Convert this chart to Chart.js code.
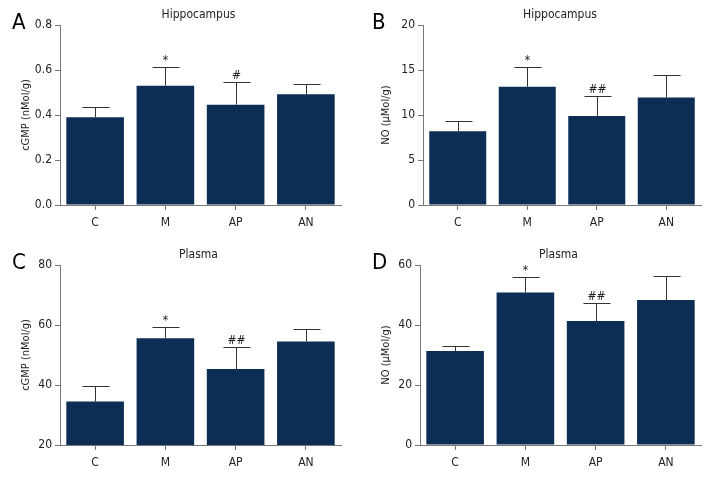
<!DOCTYPE html>
<html>
<head>
<meta charset="utf-8">
<script src="https://cdn.jsdelivr.net/npm/chart.js@4/dist/chart.umd.min.js"></script>
<style>
    html, body { margin: 0; padding: 0; background: #fff; }
    #pagina { position: relative; width: 720px; height: 480px; }
    .painel { position: absolute; width: 360px; height: 240px; }
</style>
</head>
<body>
<div id="pagina">
    <div class="painel" style="left:0;top:0"><canvas id="graficoA" width="360" height="240"></canvas></div>
    <div class="painel" style="left:360px;top:0"><canvas id="graficoB" width="360" height="240"></canvas></div>
    <div class="painel" style="left:0;top:240px"><canvas id="graficoC" width="360" height="240"></canvas></div>
    <div class="painel" style="left:360px;top:240px"><canvas id="graficoD" width="360" height="240"></canvas></div>
</div>
<script>
const grupos = ["C", "M", "AP", "AN"];

const mediaA = [0.39, 0.53, 0.446, 0.492];
const desvioA = [0.044, 0.085, 0.101, 0.044];
const marcasA = ["", "*", "#", ""];
const ticksA = [0, 0.2, 0.4, 0.6, 0.8];

const mediaB = [8.2, 13.15, 9.9, 11.95];
const desvioB = [1.15, 2.2, 2.25, 2.5];
const marcasB = ["", "*", "##", ""];
const ticksB = [0, 5, 10, 15, 20];

const mediaC = [34.5, 55.6, 45.3, 54.5];
const desvioC = [5.1, 3.7, 7.5, 4.1];
const marcasC = ["", "*", "##", ""];
const ticksC = [20, 40, 60, 80];

const mediaD = [31.3, 50.8, 41.3, 48.3];
const desvioD = [1.7, 5.2, 6.2, 8.2];
const marcasD = ["", "*", "##", ""];
const ticksD = [0, 20, 40, 60];

const FONTE = "'DejaVu Sans Condensed', 'Liberation Sans Narrow', sans-serif";
const COR_BARRA = "#0c2d54";
const COR_EIXO = "#777777";
const COR_TEXTO = "#222222";

// barras de erro (só para cima), marcas de significância, título e letra do painel
const pluginExtras = {
    id: "extras",
    afterDatasetsDraw(chart, args, opts) {
        const ctx = chart.ctx;
        const meta = chart.getDatasetMeta(0);
        const y = chart.scales.y;
        ctx.save();
        ctx.strokeStyle = "#333333";
        ctx.lineWidth = 1;
        meta.data.forEach((barra, i) => {
            const x = Math.round(barra.x) + 0.5;
            const topoBarra = y.getPixelForValue(opts.media[i]);
            const topoErro = Math.round(y.getPixelForValue(opts.media[i] + opts.desvio[i])) + 0.5;
            ctx.beginPath();
            ctx.moveTo(x, topoBarra);
            ctx.lineTo(x, topoErro);
            ctx.moveTo(x - 13, topoErro);
            ctx.lineTo(x + 14, topoErro);
            ctx.stroke();
            if (opts.marcas[i]) {
                ctx.fillStyle = COR_TEXTO;
                ctx.font = "12px " + FONTE;
                ctx.textAlign = "center";
                ctx.textBaseline = "bottom";
                ctx.fillText(opts.marcas[i], x, topoErro - 1);
            }
        });
        const area = chart.chartArea;
        ctx.fillStyle = COR_TEXTO;
        ctx.font = "12px " + FONTE;
        ctx.textAlign = "center";
        ctx.textBaseline = "middle";
        ctx.fillText(opts.titulo, (area.left + area.right) / 2 - 2, 15);
        ctx.font = "22px " + FONTE;
        ctx.textAlign = "left";
        ctx.fillStyle = "#000";
        ctx.fillText(opts.letra, 12, 23);
        ctx.restore();
    }
};

function criarGrafico(id, media, desvio, marcas, ticks, tituloY, titulo, letra, recuo) {
    return new Chart(document.getElementById(id), {
        type: "bar",
        data: {
            labels: grupos,
            datasets: [{
                data: media,
                backgroundColor: COR_BARRA,
                borderWidth: 0,
                categoryPercentage: 1,
                barPercentage: 0.82
            }]
        },
        options: {
            responsive: false,
            animation: false,
            layout: { padding: { left: 0, right: 19, top: 25, bottom: 0 } },
            plugins: {
                legend: { display: false },
                tooltip: { enabled: false },
                extras: { media, desvio, marcas, titulo, letra }
            },
            scales: {
                x: {
                    grid: { display: true, drawOnChartArea: false, offset: false, tickLength: 5, color: COR_EIXO },
                    border: { color: COR_EIXO, width: 1 },
                    ticks: { color: COR_TEXTO, font: { family: FONTE, size: 12 }, padding: 6, maxRotation: 0 },
                    afterFit: escala => { escala.height = 35; }
                },
                y: {
                    min: ticks[0],
                    max: ticks[ticks.length - 1],
                    afterBuildTicks: escala => { escala.ticks = ticks.map(v => ({ value: v })); },
                    grid: { display: true, drawOnChartArea: false, tickLength: 5, color: COR_EIXO },
                    border: { color: COR_EIXO, width: 1 },
                    ticks: {
                        color: COR_TEXTO,
                        font: { family: FONTE, size: 12 },
                        padding: 3,
                        callback: v => ticks[1] < 1 ? Number(v).toFixed(1) : String(v)
                    },
                    title: {
                        display: true,
                        text: tituloY,
                        color: COR_TEXTO,
                        font: { family: FONTE, size: 11 },
                        padding: { top: 20, bottom: 0 }
                    },
                    afterFit: escala => { escala.width = recuo; }
                }
            }
        },
        plugins: [pluginExtras]
    });
}

criarGrafico("graficoA", mediaA, desvioA, marcasA, ticksA, "cGMP (nMol/g)", "Hippocampus", "A", 60);
criarGrafico("graficoB", mediaB, desvioB, marcasB, ticksB, "NO (μMol/g)", "Hippocampus", "B", 63);
criarGrafico("graficoC", mediaC, desvioC, marcasC, ticksC, "cGMP (nMol/g)", "Plasma", "C", 60);
criarGrafico("graficoD", mediaD, desvioD, marcasD, ticksD, "NO (μMol/g)", "Plasma", "D", 60);
</script>
</body>
</html>
